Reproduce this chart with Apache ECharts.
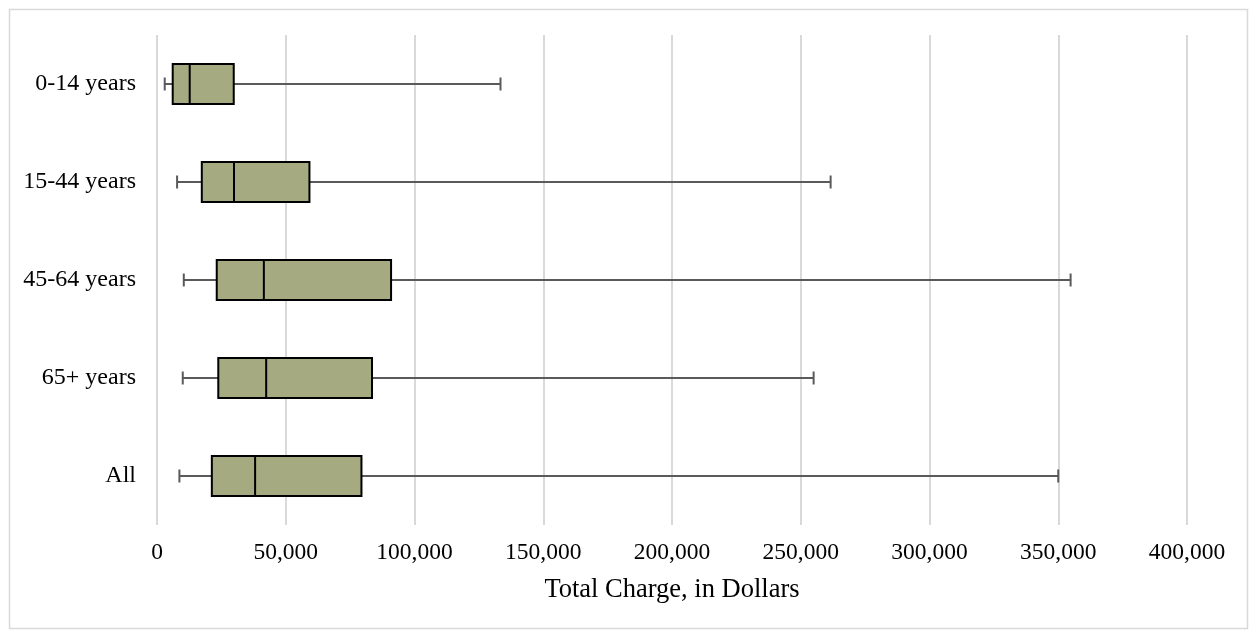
<!DOCTYPE html>
<html>
<head>
<meta charset="utf-8">
<script src="https://cdn.jsdelivr.net/npm/echarts@6/dist/echarts.min.js"></script>
<style>
  html, body { margin: 0; padding: 0; background: #ffffff; }
  #chart { width: 1252px; height: 633px; }
</style>
</head>
<body>
<div id="chart"></div>
<script>
// Age groups, top to bottom
const categories = ['0-14 years', '15-44 years', '45-64 years', '65+ years', 'All'];
// Five-number summaries of total charge (USD): min whisker, Q1, median, Q3, max whisker
const whiskerLow = [3000, 7800, 10400, 10000, 8700];
const quartile1  = [6100, 17400, 23200, 23800, 21300];
const medians    = [12700, 29900, 41500, 42400, 38100];
const quartile3  = [29800, 59200, 90900, 83500, 79400];
const whiskerHigh = [133400, 261600, 354800, 255000, 350000];
// Value axis ticks
const tickValues = [0, 50000, 100000, 150000, 200000, 250000, 300000, 350000, 400000];

const rows = categories.map((c, i) => [i, whiskerLow[i], quartile1[i], medians[i], quartile3[i], whiskerHigh[i]]);

const FONT = '"Liberation Serif", "Times New Roman", serif';
const BOX_FILL = '#a5aa80';
const WHISKER = '#5a5a5a';

function renderBox(params, api) {
  const cat = api.value(0);
  const lo = api.coord([api.value(1), cat]);
  const q1 = api.coord([api.value(2), cat]);
  const md = api.coord([api.value(3), cat]);
  const q3 = api.coord([api.value(4), cat]);
  const hi = api.coord([api.value(5), cat]);
  const band = api.size([0, 1])[1];
  const half = band * 0.204;
  const cap = 6.5;
  const y = lo[1];
  return {
    type: 'group',
    children: [
      { type: 'line', shape: { x1: lo[0], y1: y, x2: q1[0], y2: y }, style: { stroke: WHISKER, lineWidth: 2 } },
      { type: 'line', shape: { x1: q3[0], y1: y, x2: hi[0], y2: y }, style: { stroke: WHISKER, lineWidth: 2 } },
      { type: 'line', shape: { x1: lo[0], y1: y - cap, x2: lo[0], y2: y + cap }, style: { stroke: WHISKER, lineWidth: 2 } },
      { type: 'line', shape: { x1: hi[0], y1: y - cap, x2: hi[0], y2: y + cap }, style: { stroke: WHISKER, lineWidth: 2 } },
      { type: 'rect', shape: { x: q1[0], y: y - half, width: q3[0] - q1[0], height: half * 2 }, style: { fill: BOX_FILL, stroke: '#000', lineWidth: 2 } },
      { type: 'line', shape: { x1: md[0], y1: y - half, x2: md[0], y2: y + half }, style: { stroke: '#000', lineWidth: 2 } }
    ]
  };
}

const chart = echarts.init(document.getElementById('chart'), null, { renderer: 'canvas' });
chart.setOption({
  animation: false,
  backgroundColor: '#ffffff',
  graphic: [{
    type: 'rect', left: 7, top: 7, z: -10,
    shape: { width: 1238, height: 619 },
    style: { fill: 'none', stroke: '#d9d9d9', lineWidth: 1.5 }
  }],
  grid: { left: 157, right: 65, top: 35, bottom: 108, containLabel: false },
  xAxis: {
    type: 'value',
    min: tickValues[0],
    max: tickValues[tickValues.length - 1],
    interval: tickValues[1] - tickValues[0],
    name: 'Total Charge, in Dollars',
    nameLocation: 'middle',
    nameGap: 52,
    nameTextStyle: { fontFamily: FONT, fontSize: 26.5, color: '#000' },
    axisLine: { show: false },
    axisTick: { show: false },
    axisLabel: {
      fontFamily: FONT, fontSize: 23.5, color: '#000', margin: 16,
      formatter: v => v.toLocaleString('en-US')
    },
    splitLine: { show: true, lineStyle: { color: '#d9d9d9', width: 2 } }
  },
  yAxis: {
    type: 'category',
    data: categories,
    inverse: true,
    axisLine: { show: false },
    axisTick: { show: false },
    splitLine: { show: false },
    axisLabel: { fontFamily: FONT, fontSize: 24, color: '#000', margin: 21 }
  },
  series: [{
    type: 'custom',
    renderItem: renderBox,
    encode: { x: [1, 2, 3, 4, 5], y: 0 },
    data: rows
  }]
});
</script>
</body>
</html>
